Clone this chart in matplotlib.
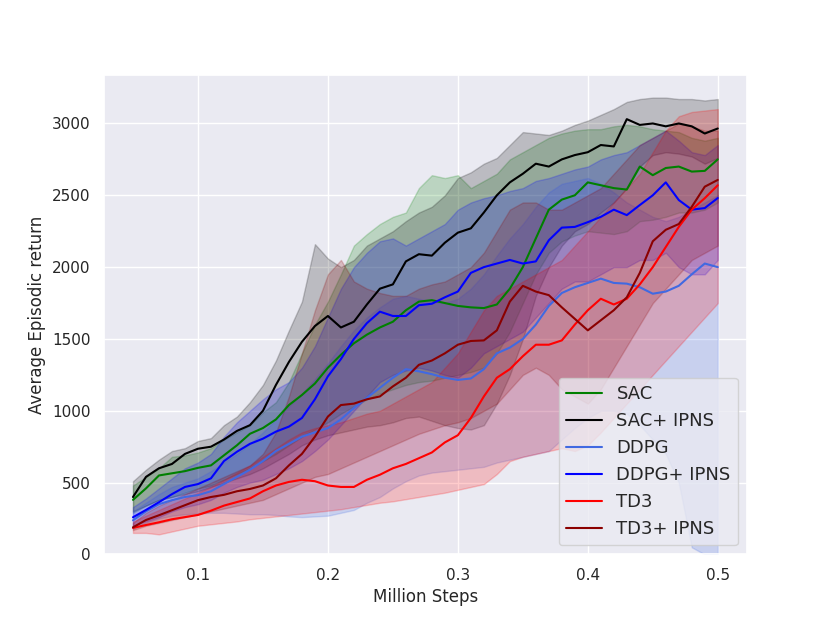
##load libraries
import numpy as np
import matplotlib
matplotlib.use("Agg")
import matplotlib.pyplot as plt
import seaborn as sns

sns.set_theme()  # darkgrid look

##steps (million), one value every 0.01
steps = np.round(np.arange(0.05, 0.5001, 0.01), 2)

##SAC
sac_mean = [380, 460, 550, 565, 580, 603, 620, 690, 760, 840,
            880, 940, 1040, 1110, 1190, 1300, 1390, 1470, 1530, 1580,
            1620, 1700, 1760, 1770, 1750, 1730, 1720, 1715, 1740, 1850,
            2000, 2200, 2400, 2470, 2500, 2590, 2570, 2550, 2540, 2700,
            2640, 2690, 2700, 2665, 2670, 2750]
sac_low = [290, 340, 380, 400, 430, 460, 480, 520, 560, 600,
           650, 700, 760, 820, 870, 920, 980, 1030, 1080, 1120,
           1150, 1180, 1200, 1210, 1230, 1250, 1270, 1300, 1400, 1550,
           1750, 1950, 2100, 2180, 2220, 2250, 2240, 2230, 2250, 2320,
           2330, 2350, 2380, 2380, 2400, 2450]
sac_high = [480, 540, 600, 680, 690, 710, 740, 800, 850, 900,
            990, 1060, 1200, 1400, 1600, 1760, 1950, 2150, 2230, 2300,
            2350, 2380, 2550, 2640, 2620, 2640, 2550, 2600, 2650, 2750,
            2800, 2850, 2900, 2930, 2950, 2960, 2960, 2980, 2990, 2980,
            2960, 2950, 2940, 2900, 2880, 2900]

##SAC + IPNS
sac_ipns_mean = [400, 540, 600, 630, 700, 736, 750, 800, 860, 900,
                 1000, 1180, 1340, 1480, 1590, 1660, 1580, 1620, 1740, 1850,
                 1880, 2040, 2090, 2080, 2170, 2240, 2270, 2380, 2500, 2590,
                 2650, 2720, 2700, 2750, 2780, 2800, 2850, 2840, 3030, 2990,
                 3000, 2980, 3000, 2980, 2930, 2965]
sac_ipns_low = [300, 340, 380, 400, 420, 440, 470, 500, 530, 560,
                600, 650, 700, 760, 800, 830, 850, 870, 890, 900,
                920, 950, 960, 930, 900, 880, 870, 900, 1050, 1250,
                1500, 1800, 2000, 2150, 2250, 2300, 2380, 2450, 2550, 2700,
                2780, 2800, 2790, 2770, 2720, 2760]
sac_ipns_high = [510, 590, 660, 720, 740, 790, 810, 900, 960, 1060,
                 1180, 1350, 1560, 1760, 2160, 2060, 2000, 2050, 2150, 2200,
                 2250, 2320, 2380, 2420, 2500, 2620, 2660, 2720, 2760, 2850,
                 2940, 2930, 2920, 2950, 2990, 3020, 3060, 3100, 3150, 3170,
                 3180, 3180, 3170, 3170, 3160, 3170]

##DDPG
ddpg_mean = [238, 300, 350, 378, 400, 413, 440, 490, 540, 590,
             650, 720, 770, 820, 850, 880, 940, 1020, 1090, 1160,
             1230, 1290, 1275, 1255, 1230, 1215, 1225, 1290, 1400, 1440,
             1500, 1600, 1730, 1820, 1860, 1890, 1920, 1890, 1885, 1860,
             1815, 1830, 1870, 1950, 2025, 2000]
ddpg_low = [180, 220, 250, 270, 280, 285, 290, 290, 285, 280,
            280, 275, 265, 260, 265, 270, 290, 310, 360, 400,
            460, 510, 550, 570, 580, 590, 600, 610, 640, 660,
            680, 700, 720, 800, 880, 950, 1000, 1000, 980, 900,
            800, 700, 500, 50, 0, 0]
ddpg_high = [300, 360, 420, 470, 500, 530, 580, 640, 700, 770,
             850, 940, 1030, 1120, 1220, 1330, 1450, 1560, 1650, 1720,
             1780, 1800, 1780, 1760, 1750, 1780, 1850, 1950, 2080, 2200,
             2300, 2420, 2520, 2580, 2600, 2620, 2580, 2520, 2450, 2400,
             2350, 2320, 2350, 2400, 2450, 2500]

##DDPG + IPNS
ddpg_ipns_mean = [259, 310, 364, 420, 470, 490, 530, 650, 715, 770,
                  806, 855, 890, 950, 1080, 1240, 1360, 1500, 1610, 1690,
                  1660, 1660, 1735, 1745, 1790, 1830, 1960, 2000, 2025, 2050,
                  2025, 2040, 2187, 2275, 2280, 2313, 2350, 2400, 2362, 2432,
                  2500, 2590, 2467, 2400, 2411, 2481]
ddpg_ipns_low = [200, 230, 260, 300, 330, 350, 380, 430, 470, 500,
                 520, 560, 600, 650, 720, 800, 900, 1000, 1100, 1200,
                 1250, 1280, 1300, 1280, 1250, 1230, 1300, 1400, 1450, 1500,
                 1550, 1650, 1750, 1850, 1900, 1900, 1950, 2000, 2000, 2050,
                 2050, 2100, 2000, 1950, 1950, 2050]
ddpg_ipns_high = [330, 390, 460, 530, 600, 640, 700, 820, 920, 1000,
                  1080, 1150, 1200, 1300, 1450, 1650, 1850, 2000, 2100, 2180,
                  2200, 2150, 2200, 2250, 2300, 2400, 2450, 2480, 2500, 2530,
                  2550, 2600, 2620, 2650, 2680, 2700, 2750, 2780, 2800, 2850,
                  2900, 2950, 2880, 2800, 2780, 2850]

##TD3
td3_mean = [185, 205, 224, 245, 260, 275, 305, 340, 365, 390,
            440, 480, 505, 520, 510, 480, 470, 470, 520, 555,
            600, 630, 670, 710, 780, 830, 950, 1100, 1230, 1290,
            1380, 1460, 1460, 1490, 1600, 1700, 1780, 1740, 1780, 1880,
            2000, 2140, 2280, 2400, 2480, 2570]
td3_low = [150, 150, 140, 160, 180, 200, 210, 220, 230, 245,
           255, 265, 275, 285, 295, 305, 315, 330, 345, 360,
           370, 385, 400, 415, 430, 450, 470, 490, 560, 650,
           680, 700, 720, 740, 720, 760, 850, 950, 1050, 1150,
           1250, 1350, 1450, 1550, 1650, 1750]
td3_high = [230, 270, 310, 350, 390, 430, 470, 520, 570, 620,
            680, 740, 800, 850, 880, 900, 920, 950, 980, 1000,
            1050, 1100, 1150, 1200, 1300, 1400, 1550, 1700, 1800, 1850,
            1900, 1950, 2000, 2050, 2150, 2250, 2350, 2450, 2550, 2650,
            2800, 2950, 3050, 3080, 3090, 3100]

##TD3 + IPNS
td3_ipns_mean = [189, 240, 273, 308, 343, 378, 400, 415, 440, 456,
                 480, 530, 620, 700, 820, 960, 1040, 1050, 1080, 1100,
                 1170, 1230, 1320, 1350, 1400, 1460, 1486, 1490, 1560, 1760,
                 1870, 1830, 1805, 1720, 1640, 1560, 1630, 1700, 1790, 1960,
                 2180, 2260, 2300, 2420, 2560, 2607]
td3_ipns_low = [170, 200, 220, 240, 260, 280, 300, 320, 340, 360,
                380, 420, 460, 500, 540, 560, 600, 640, 680, 720,
                760, 800, 840, 870, 900, 920, 950, 1000, 1050, 1150,
                1250, 1300, 1250, 1150, 1100, 1050, 1150, 1300, 1450, 1600,
                1750, 1850, 1950, 2050, 2100, 2150]
td3_ipns_high = [220, 290, 340, 380, 420, 460, 500, 540, 580, 620,
                 700, 850, 1100, 1400, 1700, 1950, 2050, 1900, 1850, 1820,
                 1800, 1800, 1850, 1880, 1900, 1950, 2000, 2100, 2250, 2400,
                 2450, 2450, 2400, 2400, 2450, 2500, 2550, 2650, 2750, 2850,
                 2900, 2950, 3000, 2980, 2950, 2950]

labels = ['SAC', 'SAC+ IPNS', 'DDPG', 'DDPG+ IPNS', 'TD3', 'TD3+ IPNS']
colors = ['green', 'black', 'royalblue', 'blue', 'red', 'darkred']
means = [sac_mean, sac_ipns_mean, ddpg_mean, ddpg_ipns_mean, td3_mean, td3_ipns_mean]
lows = [sac_low, sac_ipns_low, ddpg_low, ddpg_ipns_low, td3_low, td3_ipns_low]
highs = [sac_high, sac_ipns_high, ddpg_high, ddpg_ipns_high, td3_high, td3_ipns_high]

##set up the plot
fig, ax = plt.subplots(figsize=(8.3, 6.23), dpi=100)

for lab, col, m, lo, hi in zip(labels, colors, means, lows, highs):
    ax.plot(steps, m, color=col, label=lab, linewidth=1.5)
    ax.fill_between(steps, lo, hi, color=col, alpha=0.2)

ax.set_ylim(bottom=0)  # keep auto top, cut at zero
ax.set_xlabel('Million Steps')
ax.set_ylabel('Average Episodic return')
ax.legend(loc='lower right', fontsize=13)

fig.savefig('out.png', dpi=100)
